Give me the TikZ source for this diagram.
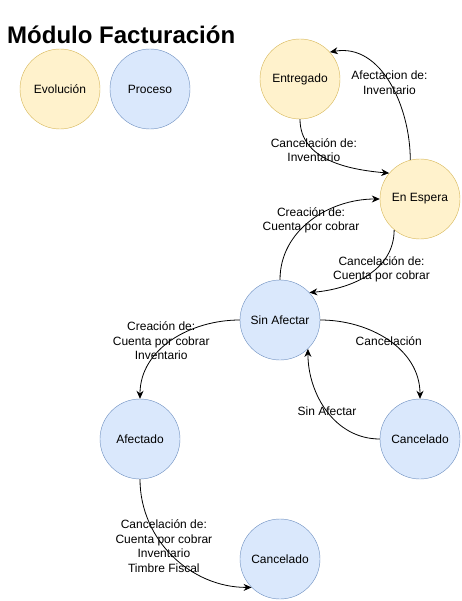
\documentclass[tikz,border=0pt]{standalone}
\usepackage{fontspec}
\setmainfont{Liberation Sans}
\usetikzlibrary{arrows.meta}

\definecolor{evolfill}{HTML}{FFF2CC}
\definecolor{evoldraw}{HTML}{D6B656}
\definecolor{procfill}{HTML}{DAE8FC}
\definecolor{procdraw}{HTML}{6C8EBF}

\tikzstyle{evol}=[circle,minimum size=80pt,inner sep=0pt,draw=evoldraw,fill=evolfill,font=\fontsize{12}{14.5}\selectfont]
\tikzstyle{proc}=[circle,minimum size=80pt,inner sep=0pt,draw=procdraw,fill=procfill,font=\fontsize{12}{14.5}\selectfont]
\tikzstyle{tedge}=[-{Stealth[length=8pt,width=7pt]},black,line width=0.8pt]

\begin{document}
\begin{tikzpicture}[x=1pt,y=1pt]
        \useasboundingbox (0,0) rectangle (461,-601);

        \draw (7,-35) node[anchor=west,inner sep=0pt,font=\fontsize{24}{28}\selectfont\bfseries](titulo){Módulo Facturación};
        \draw (60,-89) node[evol](evolucion){Evolución};
        \draw (150,-89) node[proc](proceso){Proceso};
        \draw (300,-79) node[evol](entregado){Entregado};
        \draw (420,-199) node[evol](espera){En Espera};
        \draw (280,-320) node[proc](sinafectar){Sin Afectar};
        \draw (140,-439) node[proc](afectado){Afectado};
        \draw (420,-439) node[proc](cancelado){Cancelado};
        \draw (280,-559) node[proc](canceladob){Cancelado};
        %
        \path[every node/.style={font=\fontsize{12}{14.5}\selectfont, align=center}]
            (espera.104)    edge[tedge, out=90, in=10]       node[pos=0.5]{Afectacion de:\\Inventario}       (entregado.42)
            (entregado.270) edge[tedge, out=270, in=175]     node[pos=0.33]{Cancelación de:\\Inventario}      (espera.140)
            (sinafectar.90) edge[tedge, out=90, in=180]      node[pos=0.5]{Creación de:\\Cuenta por cobrar}  (espera.180)
            (espera.230)    edge[tedge, out=270, in=5]       node[pos=0.33,yshift=-6pt]{Cancelación de:\\Cuenta por cobrar} (sinafectar.43)
            (sinafectar.180) edge[tedge, out=180, in=90]     node[pos=0.5,xshift=-10pt]{Creación de:\\Cuenta por cobrar\\Inventario} (afectado.90)
            (sinafectar.0)  edge[tedge, out=0, in=90]        node[pos=0.5]{Cancelación}                      (cancelado.90)
            (cancelado.180) edge[tedge, out=180, in=270]     node[pos=0.5]{Sin Afectar}                      (sinafectar.-46)
            (afectado.270)  edge[tedge, out=270, in=180]     node[pos=0.42]{Cancelación de:\\Cuenta por cobrar\\Inventario\\Timbre Fiscal} (canceladob.225)
        ;
\end{tikzpicture}
\end{document}
